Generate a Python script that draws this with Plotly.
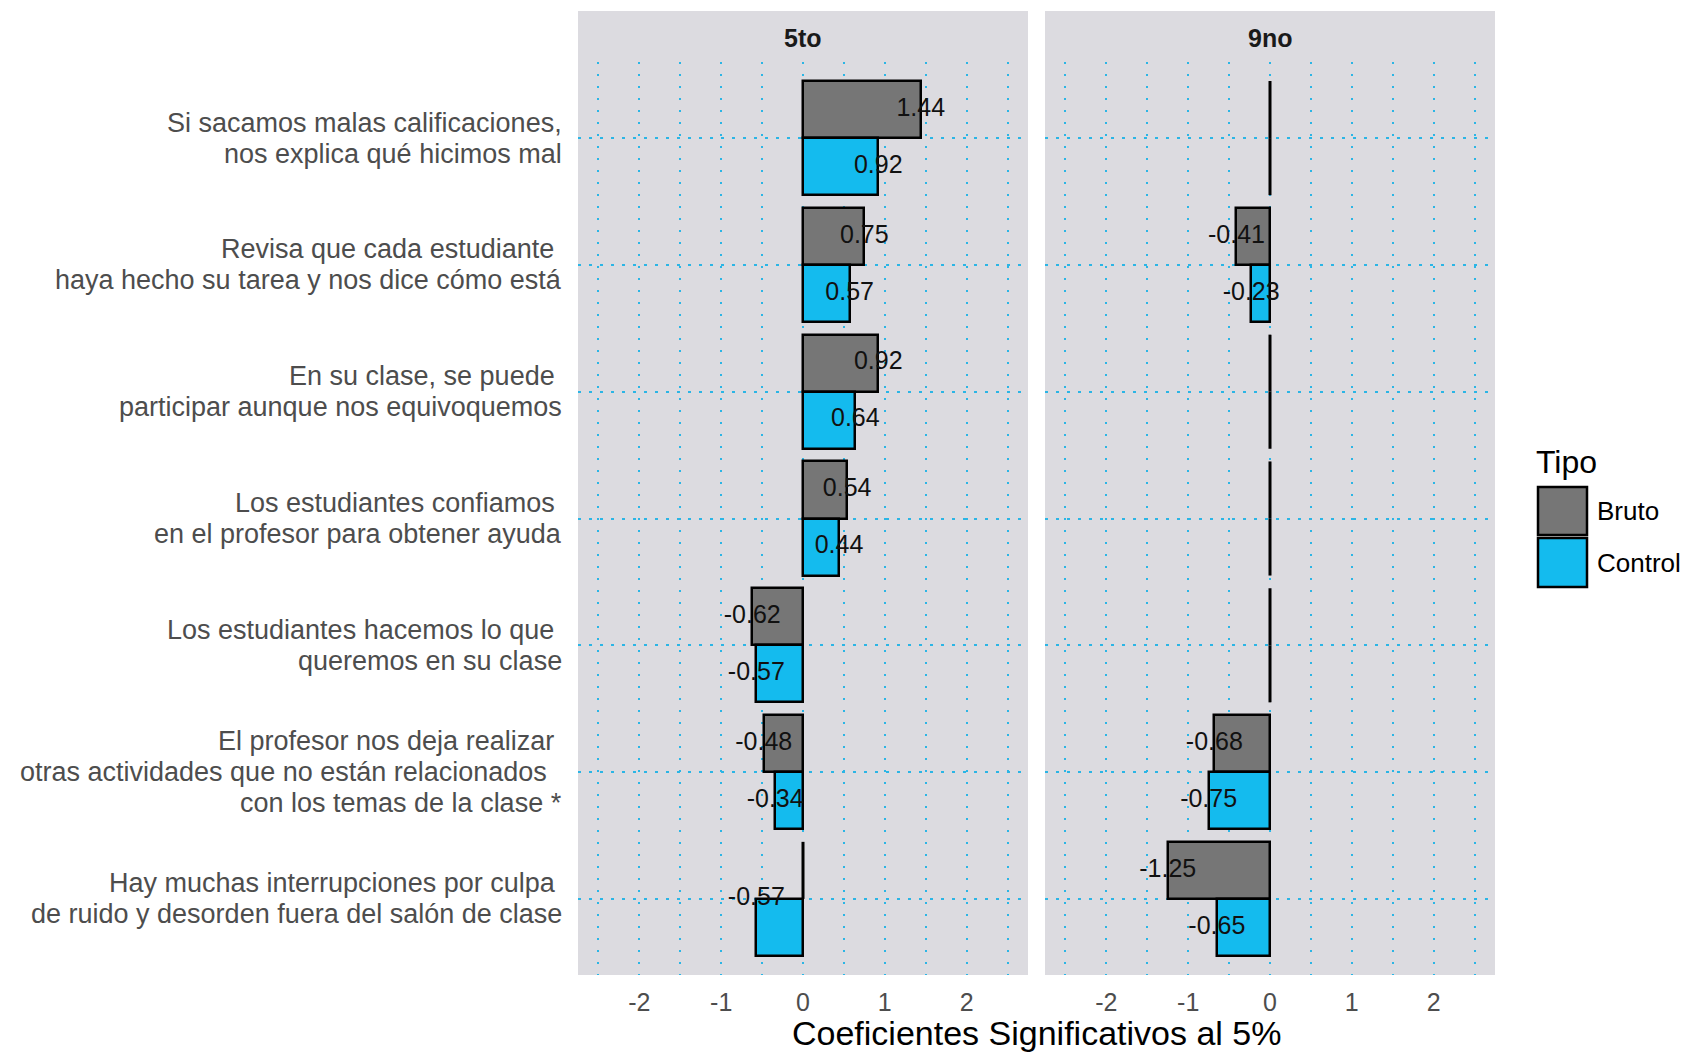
import plotly.graph_objects as go

# ---------------- data ----------------
categories = [
    "Si sacamos malas calificaciones,<br>nos explica qué hicimos mal",
    "Revisa que cada estudiante\u00a0<br>haya hecho su tarea y nos dice cómo está",
    "En su clase, se puede\u00a0<br>participar aunque nos equivoquemos",
    "Los estudiantes confiamos\u00a0<br>en el profesor para obtener ayuda",
    "Los estudiantes hacemos lo que\u00a0<br>queremos en su clase",
    "El profesor nos deja realizar\u00a0<br>otras actividades que no están relacionados\u00a0\u00a0<br>con los temas de la clase *",
    "Hay muchas interrupciones por culpa\u00a0<br>de ruido y desorden fuera del salón de clase",
]
grades = ["5to", "9no"]
series_names = ["Bruto", "Control"]

bruto_5to = [1.44, 0.75, 0.92, 0.54, -0.62, -0.48, 0.0]
control_5to = [0.92, 0.57, 0.64, 0.44, -0.57, -0.34, -0.57]
bruto_9no = [None, -0.41, None, None, None, -0.68, -1.25]
control_9no = [None, -0.23, None, None, None, -0.75, -0.65]

x_tick_vals = [-2.5, -2, -1.5, -1, -0.5, 0, 0.5, 1, 1.5, 2, 2.5]
x_tick_text = ["", "-2", "", "-1", "", "0", "", "1", "", "2", ""]

x_title = "Coeficientes Significativos al 5%"
legend_title = "Tipo"

# ---------------- style ----------------
W, H = 1688, 1053
BRUTO_C = "#767676"
CONTROL_C = "#14BBEE"
PANEL_BG = "#DCDBE0"
GRID_C = "#2BB5E5"
FONT = "Liberation Sans, Arial, Helvetica, sans-serif"
BAR_W = 0.45
LINE_SP = 31  # px between lines of category labels

def px(x):
    return x / W

def py(y):
    return 1 - y / H

panel_px = [(578, 1028), (1045, 1495)]
plot_top, plot_bot, strip_top = 62, 975, 11

fig = go.Figure()

panels = [("x", "y", bruto_5to, control_5to), ("x2", "y2", bruto_9no, control_9no)]
colors = [BRUTO_C, CONTROL_C]
offsets = [-BAR_W / 2, BAR_W / 2]

for xa, ya, bru, con in panels:
    series = [bru, con]
    for s, vals in enumerate(series):
        ys = [i + offsets[s] for i in range(len(categories))]
        xs = [v if (v is not None and v != 0) else None for v in vals]
        fig.add_trace(go.Bar(
            x=xs, y=ys, orientation="h", width=BAR_W,
            marker=dict(color=colors[s], line=dict(color="black", width=2.5)),
            xaxis=xa, yaxis=ya, showlegend=False, name=series_names[s],
            hoverinfo="x+name",
        ))
    # zero-value / missing slots drawn as a line at 0
    zx, zy = [], []
    for i in range(len(categories)):
        for s, vals in enumerate(series):
            v = vals[i]
            if v is None or v == 0:
                c = i + offsets[s]
                zx += [0, 0, None]
                zy += [c - BAR_W / 2, c + BAR_W / 2, None]
    fig.add_trace(go.Scatter(x=zx, y=zy, mode="lines", line=dict(color="black", width=3),
                             xaxis=xa, yaxis=ya, showlegend=False, hoverinfo="skip"))
    # value labels
    tx, ty, tt = [], [], []
    for i in range(len(categories)):
        for s, vals in enumerate(series):
            v = vals[i]
            if v is None or v == 0:
                continue
            sib = series[1 - s][i]
            tx.append(v)
            ty.append(i if sib == 0 else i + offsets[s])
            tt.append(f"{v:.2f}")
    fig.add_trace(go.Scatter(x=tx, y=ty, text=tt, mode="text", textposition="middle center",
                             textfont=dict(family=FONT, size=25, color="#111111"),
                             xaxis=xa, yaxis=ya, showlegend=False, hoverinfo="skip"))

n = len(categories)
yrange = [n - 1 + 0.6, -0.6]

xcommon = dict(range=[-2.75, 2.75], tickmode="array", tickvals=x_tick_vals, ticktext=x_tick_text,
               showgrid=True, gridcolor=GRID_C, gridwidth=1.8, griddash="2px,10px",
               zeroline=False, showline=False, ticks="", ticklabelstandoff=10,
               tickfont=dict(family=FONT, size=25, color="#4D4D4D"))
ycommon = dict(range=yrange, tickmode="array", tickvals=list(range(n)),
               showgrid=True, gridcolor=GRID_C, gridwidth=1.8, griddash="3px,8px",
               zeroline=False, showline=False, ticks="", showticklabels=False,
               domain=[py(plot_bot), py(plot_top)])

fig.update_layout(
    width=W, height=H,
    margin=dict(l=0, r=0, t=0, b=0),
    paper_bgcolor="white",
    plot_bgcolor=PANEL_BG,
    showlegend=False,
    bargap=0,
    xaxis=dict(xcommon, domain=[px(panel_px[0][0]), px(panel_px[0][1])], anchor="y"),
    xaxis2=dict(xcommon, domain=[px(panel_px[1][0]), px(panel_px[1][1])], anchor="y2"),
    yaxis=dict(ycommon, anchor="x"),
    yaxis2=dict(ycommon, anchor="x2", matches="y"),
)

shapes = []
annotations = []

# category labels (one annotation per line for tight line spacing)
for i, lab in enumerate(categories):
    lines = lab.split("<br>")
    k = len(lines)
    for j, ln in enumerate(lines):
        annotations.append(dict(text=ln, xref="paper", yref="y", x=px(564), y=i,
                                yshift=-(j - (k - 1) / 2) * LINE_SP, showarrow=False,
                                xanchor="right", yanchor="middle",
                                font=dict(family=FONT, size=27, color="#4D4D4D")))

# strips
for k, (x0, x1) in enumerate(panel_px):
    shapes.append(dict(type="rect", xref="paper", yref="paper", x0=px(x0), x1=px(x1),
                       y0=py(plot_top), y1=py(strip_top), fillcolor=PANEL_BG,
                       line=dict(width=0), layer="below"))
    annotations.append(dict(text=f"<b>{grades[k]}</b>", xref="paper", yref="paper",
                            x=px((x0 + x1) / 2), y=py(38), showarrow=False,
                            xanchor="center", yanchor="middle",
                            font=dict(family=FONT, size=25, color="#1A1A1A")))

# x axis title
annotations.append(dict(text=x_title, xref="paper", yref="paper",
                        x=px((panel_px[0][0] + panel_px[1][1]) / 2), y=py(1033),
                        showarrow=False, xanchor="center", yanchor="middle",
                        font=dict(family=FONT, size=34, color="black")))

# legend (custom, large keys)
annotations.append(dict(text=legend_title, xref="paper", yref="paper", x=px(1534), y=py(462),
                        showarrow=False, xanchor="left", yanchor="middle",
                        font=dict(family=FONT, size=32, color="black")))
key_rows = [(487, 535), (538, 587)]
for s, (k0, k1) in enumerate(key_rows):
    shapes.append(dict(type="rect", xref="paper", yref="paper", x0=px(1538), x1=px(1587),
                       y0=py(k1), y1=py(k0), fillcolor=colors[s],
                       line=dict(color="black", width=2.5)))
    annotations.append(dict(text=series_names[s], xref="paper", yref="paper", x=px(1595),
                            y=py((k0 + k1) / 2), showarrow=False, xanchor="left",
                            yanchor="middle", font=dict(family=FONT, size=26, color="black")))

fig.update_layout(shapes=shapes, annotations=annotations)

fig.write_html("out.html", config={"displayModeBar": False},
               post_script="document.body.style.margin='0';document.body.style.overflow='hidden';")
